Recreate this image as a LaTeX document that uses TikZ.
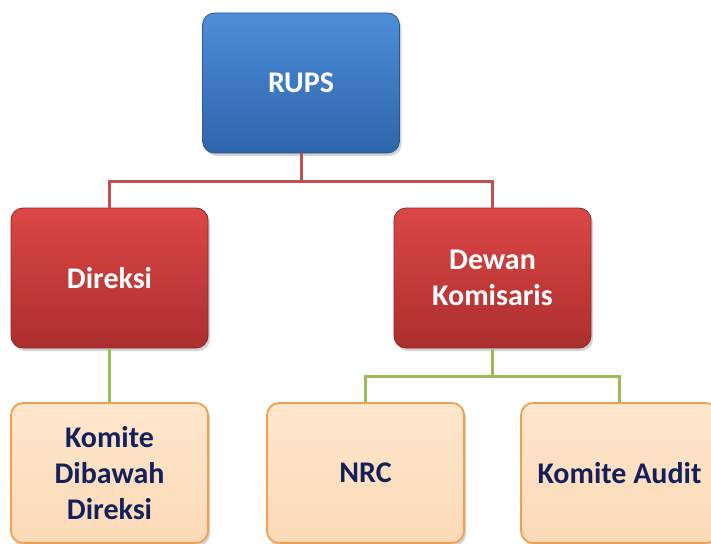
\documentclass[tikz,border=0pt]{standalone}
\usepackage{fontspec}
\setmainfont{Carlito}
\usepackage{tikz}
\usetikzlibrary{shadows, trees}

\definecolor{linkred}{HTML}{C0504D}
\definecolor{linkgreen}{HTML}{9BBB59}
\definecolor{navytext}{HTML}{14205A}

\begin{document}
\begin{tikzpicture}[x=1pt, y=1pt, level distance=195pt,
      every node/.style = {shape=rectangle, rounded corners=12pt,
        minimum width=197pt, minimum height=140pt, align=center,
        font=\bfseries\fontsize{30}{36}\selectfont,
        drop shadow={shadow xshift=2pt, shadow yshift=-3pt, opacity=0.35}},
      bluebox/.style = {draw={rgb,255:red,45;green,85;blue,140}, line width=0.8pt, text=white,
        top color={rgb,255:red,77;green,142;blue,218}, bottom color={rgb,255:red,46;green,100;blue,170}},
      redbox/.style = {draw={rgb,255:red,140;green,40;blue,40}, line width=0.8pt, text=white,
        top color={rgb,255:red,219;green,71;blue,70}, bottom color={rgb,255:red,172;green,46;blue,46}},
      peachbox/.style = {draw={rgb,255:red,240;green,160;blue,80}, line width=1.8pt, text=navytext,
        top color={rgb,255:red,254;green,230;blue,204}, bottom color={rgb,255:red,252;green,218;blue,184}},
      edge from parent path = {(\tikzparentnode.south) -- ++(0,-28pt) -| (\tikzchildnode.north)},
      level 1/.style = {sibling distance=383pt,
        edge from parent/.style={draw=linkred, line width=3pt}},
      level 2/.style = {sibling distance=254pt,
        edge from parent/.style={draw=linkgreen, line width=3pt}}]

    \useasboundingbox (0,0) rectangle (711,-543);

      \node[bluebox] (rups) at (301,-83) {RUPS}
        child { node[redbox] (direksi) {Direksi}
          child { node[peachbox] (komdir) {Komite\\ Dibawah\\ Direksi} }
        }
        child { node[redbox] (dekom) {Dewan\\ Komisaris}
          child { node[peachbox] (nrc) {NRC} }
          child { node[peachbox] (komaudit) {Komite Audit} }
        };
    \end{tikzpicture}
\end{document}
